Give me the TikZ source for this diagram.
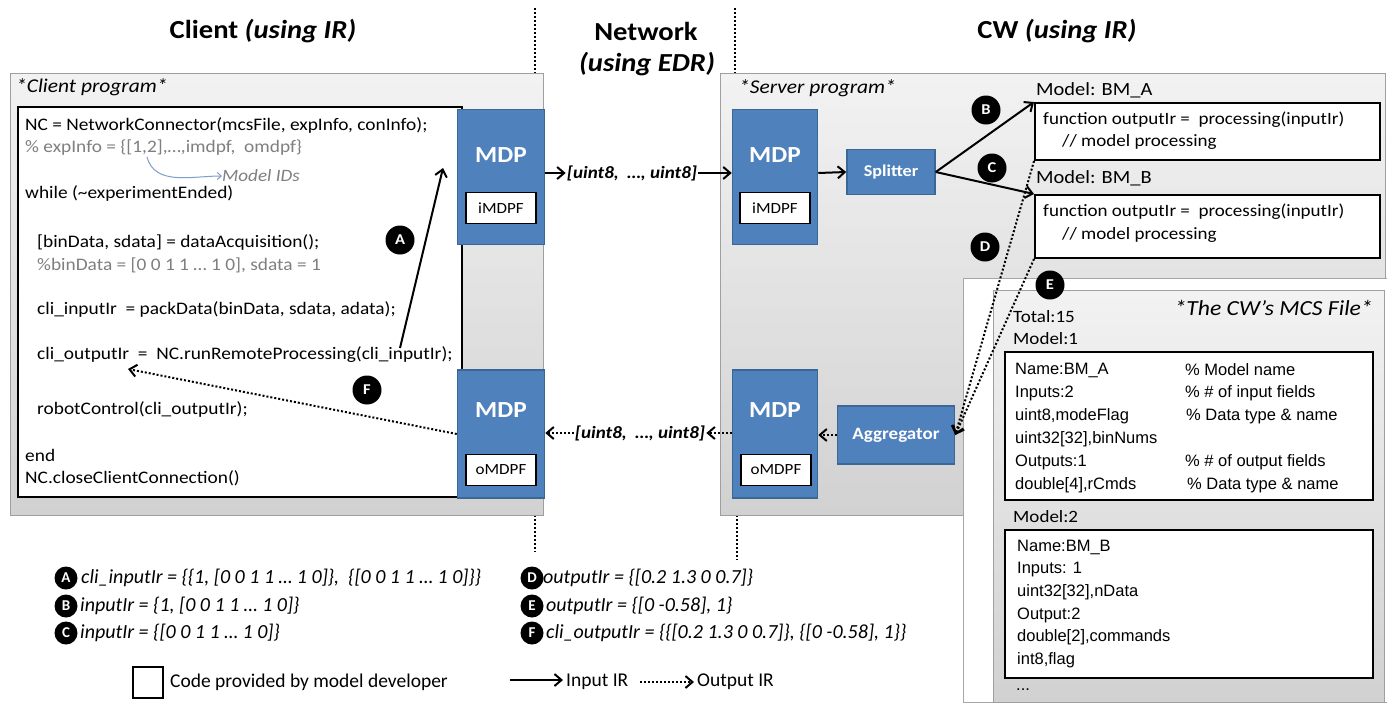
\documentclass[tikz,border=0pt]{standalone}
\usepackage{fontspec}
\setmainfont[FakeStretch=1.1]{Carlito}
\newfontfamily\mcsfont{Liberation Sans}
\newfontfamily\legfont{Carlito}
\usetikzlibrary{arrows.meta}

\definecolor{mdpblue}{HTML}{4F81BD}
\definecolor{mdpedge}{HTML}{3A6795}
\definecolor{cmtgray}{HTML}{7F7F7F}
\definecolor{idblue}{HTML}{7F9FCB}

\newcommand{\fs}[1]{\fontsize{#1}{#1}\selectfont}

\tikzset{
  area/.style={draw=gray!75, line width=1pt, top color=gray!10, bottom color=gray!36},
  mdp/.style={draw=mdpedge, fill=mdpblue, line width=1.5pt},
  mdptxt/.style={text=white, font=\fs{23}\bfseries},
  blk/.style={draw=mdpedge, fill=mdpblue, line width=1.5pt, text=white, font=\fs{16.5}\bfseries},
  fld/.style={draw=black, fill=white, line width=1.8pt, font=\fs{15.5}, minimum width=70pt, minimum height=31pt, inner sep=0pt},
  codebox/.style={draw=black, fill=white, line width=2pt},
  code/.style={anchor=west, inner sep=0pt, font=\fs{17.6}},
  mcs/.style={anchor=west, inner sep=0pt, font=\mcsfont\fs{16.5}},
  head/.style={font=\fs{26}\bfseries},
  prog/.style={anchor=west, inner sep=0pt, font=\fs{19.5}\itshape},
  tag/.style={circle, fill=black, text=white, font=\fs{15}\bfseries, minimum size=29pt, inner sep=0pt},
  ltag/.style={circle, fill=black, text=white, font=\legfont\fs{15}\bfseries, minimum size=23pt, inner sep=0pt},
  leg/.style={anchor=west, inner sep=0pt, font=\legfont\fs{20}\itshape},
  key/.style={anchor=west, inner sep=0pt, font=\legfont\fs{19.5}},
  inarrow/.style={line width=2pt, -{Straight Barb[length=7pt,width=12pt]}},
  outarrow/.style={line width=2pt, dash pattern=on 2pt off 2pt, -{Straight Barb[length=7pt,width=12pt]}},
  sep/.style={line width=2pt, dash pattern=on 2pt off 2pt}
}

\begin{document}
\begin{tikzpicture}[x=1pt,y=-1pt]
  \useasboundingbox (0,0) rectangle (1387,702);

  % Headers
  \node[head] (hcli) at (263,31) {Client \textit{(using IR)}};
  \node[head] (hnet) at (646,31) {Network};
  \node[head] (hedr) at (647,64) {\textit{(using EDR)}};
  \node[head] (hcw) at (1057,31) {CW \textit{(using IR)}};

  % Separators
  \draw[sep] (535,8) -- (535,73);
  \draw[sep] (735,8) -- (735,73);
  \draw[sep] (535,515) -- (535,552);
  \draw[sep] (737,515) -- (737,560);

  % Client side
  \draw[area] (10,73) rectangle (543,515);
  \node[prog] (cprog) at (16,87) {*Client program*};
  \draw[codebox] (18,107) rectangle (462,497);

  \node[code] (l1) at (25,125) {NC = NetworkConnector(mcsFile, expInfo, conInfo);};
  \node[code, text=cmtgray] (l2) at (25,148) {\% expInfo = \{[1,2],…,imdpf,\ \ omdpf\}};
  \node[code, text=cmtgray, font=\fs{17.3}\itshape] (ids) at (222,176) {Model IDs};
  \node[code] (l3) at (25,193) {while (\textasciitilde experimentEnded)};
  \node[code] (l4) at (37,242) {[binData, sdata] = dataAcquisition();};
  \node[code, text=cmtgray] (l5) at (37,265) {\%binData = [0 0 1 1 … 1 0], sdata = 1};
  \node[code] (l6) at (37,309) {cli\_inputIr \ = packData(binData,\ sdata,\ adata);};
  \node[code] (l7) at (37,355) {cli\_outputIr \ = \ NC.runRemoteProcessing(cli\_inputIr);};
  \node[code] (l8) at (37,409) {robotControl(cli\_outputIr);};
  \node[code] (l9) at (25,455) {end};
  \node[code] (l10) at (25,478) {NC.closeClientConnection()};

  \coordinate (idsrc) at (147,157);
  \draw[idblue, line width=1pt, -{Straight Barb[length=4pt,width=7pt]}] (idsrc) to[out=-75,in=180] (ids.west);

  \node[mdp, minimum width=87pt, minimum height=135pt] (cin) at (501,177) {};
  \node[mdptxt] (cinl) at (501,155) {MDP};
  \node[fld] (cinf) at (501,208) {iMDPF};
  \node[mdp, minimum width=87pt, minimum height=128pt] (cout) at (501,434) {};
  \node[mdptxt] (coutl) at (501,410) {MDP};
  \node[fld] (coutf) at (501,470) {oMDPF};

  % Server side
  \draw[area] (720,73) rectangle (1385,515);
  \node[prog] (sprog) at (739,88) {*Server program*};

  \node[mdp, minimum width=85pt, minimum height=135pt] (sin) at (775,177) {};
  \node[mdptxt] (sinl) at (775,155) {MDP};
  \node[fld] (sinf) at (775,208) {iMDPF};
  \node[mdp, minimum width=85pt, minimum height=128pt] (sout) at (775,434) {};
  \node[mdptxt] (soutl) at (775,410) {MDP};
  \node[fld] (soutf) at (776,470) {oMDPF};

  \node[blk, minimum width=88pt, minimum height=45pt] (split) at (891,172) {Splitter};
  \node[blk, minimum width=117pt, minimum height=58pt, font=\fs{17.3}\bfseries] (aggr) at (896,435) {Aggregator};

  \node[anchor=west, inner sep=0pt, font=\fs{18.6}] (mla) at (1036,90) {Model: BM\_A};
  \node[codebox, minimum width=345pt, minimum height=57pt] (bma) at (1207.5,131.5) {};
  \node[code, font=\fs{17.3}] (fa1) at (1043,120) {function outputIr =\ \ processing(inputIr)};
  \node[code, font=\fs{17.3}] (fa2) at (1062,142) {// model processing};

  \node[anchor=west, inner sep=0pt, font=\fs{18.6}] (mlb) at (1036,178) {Model: BM\_B};
  \node[codebox, minimum width=345pt, minimum height=63pt] (bmb) at (1207.5,226.5) {};
  \node[code, font=\fs{17.3}] (fb1) at (1043,212) {function outputIr =\ \ processing(inputIr)};
  \node[code, font=\fs{17.3}] (fb2) at (1062,235) {// model processing};

  % MCS file
  \draw[draw=gray!70, line width=1pt, fill=white] (963,278) rectangle (1387,702);
  \draw[area] (993,290) rectangle (1384,702);
  \node[prog, anchor=east, font=\fs{21.5}\itshape] (mcst) at (1373,308) {*The CW’s MCS File*};
  \node[code, font=\fs{17.3}] (tot) at (1013,317) {Total:15};
  \node[code, font=\fs{17.3}] (mod1) at (1013,339) {Model:1};
  \node[codebox, minimum width=368pt, minimum height=148pt] (mcsa) at (1189,426) {};
  \node[mcs] (a1) at (1015,370) {Name:BM\_A};
  \node[mcs] (a2) at (1015,393) {Inputs:2};
  \node[mcs] (a3) at (1015,416) {uint8,modeFlag};
  \node[mcs] (a4) at (1015,439) {uint32[32],binNums};
  \node[mcs] (a5) at (1015,462) {Outputs:1};
  \node[mcs] (a6) at (1015,485) {double[4],rCmds};
  \node[mcs] (c1) at (1185,370) {\% Model name};
  \node[mcs] (c2) at (1185,393) {\% \# of input fields};
  \node[mcs] (c3) at (1186,416) {\% Data type \& name};
  \node[mcs] (c5) at (1185,462) {\% \# of output fields};
  \node[mcs] (c6) at (1187,485) {\% Data type \& name};
  \node[code, font=\fs{17.3}] (mod2) at (1013,517) {Model:2};
  \node[codebox, minimum width=368pt, minimum height=148pt] (mcsb) at (1189,604) {};
  \node[mcs] (b1) at (1017,547) {Name:BM\_B};
  \node[mcs] (b2) at (1017,570) {Inputs: 1};
  \node[mcs] (b3) at (1017,592) {uint32[32],nData};
  \node[mcs] (b4) at (1017,615) {Output:2};
  \node[mcs] (b5) at (1017,637) {double[2],commands};
  \node[mcs] (b6) at (1017,660) {int8,flag};
  \node[mcs] (more) at (1016,690) {...};

  % Network payloads
  \node[inner sep=1pt, font=\fs{17.3}\bfseries\itshape] (netin) at (632,173) {[uint8,\ \ …, uint8]};
  \node[inner sep=1pt, font=\fs{17.3}\bfseries\itshape] (netout) at (640,433) {[uint8,\ \ …, uint8]};

  % Input IR
  \coordinate (asrc) at (400,348);
  \coordinate (atip) at (443,168);
  \draw[inarrow] (asrc) -- (atip);
  \draw[inarrow] (netin.west -| cin.east) -- (netin.west);
  \draw[inarrow] (netin.east) -- (netin.east -| sin.west);
  \draw[inarrow] (netin.east -| sin.east) -- (split.west);
  \draw[inarrow] (split.east) -- (bma.north west);
  \draw[inarrow] (split.east) -- (bmb.north west);

  % Output IR
  \draw[outarrow] (bma.south west) -- (aggr.east);
  \draw[outarrow] (bmb.south west) -- (aggr.east);
  \draw[outarrow] (aggr.west) -- (aggr.west -| sout.east);
  \draw[outarrow] (netout.east -| sout.west) -- (netout.east);
  \draw[outarrow] (netout.west) -- (netout.west -| cout.east);
  \coordinate (ftip) at (128,369);
  \draw[outarrow] (cout.west) -- (ftip);

  % Tags
  \node[tag] (ta) at (400,240) {A};
  \node[tag] (tb) at (986,110) {B};
  \node[tag] (tc) at (992,168) {C};
  \node[tag] (td) at (985,247) {D};
  \node[tag] (te) at (1050,285) {E};
  \node[tag] (tf) at (367,390) {F};

  % Legend
  \node[ltag] (la) at (66,578) {A};
  \node[leg] (lta) at (81,578) {cli\_inputIr = \{\{1, [0 0 1 1 … 1 0]\},\ \ \{[0 0 1 1 … 1 0]\}\}};
  \node[ltag] (lb) at (66,606) {B};
  \node[leg] (ltb) at (80,606) {inputIr = \{1, [0 0 1 1 … 1 0]\}};
  \node[ltag] (lc) at (66,633) {C};
  \node[leg] (ltc) at (80,633) {inputIr = \{[0 0 1 1 … 1 0]\}};
  \node[ltag] (ld) at (532,578) {D};
  \node[leg] (ltd) at (543,578) {outputIr = \{[0.2 1.3 0 0.7]\}};
  \node[ltag] (le) at (532,606) {E};
  \node[leg] (lte) at (546,606) {outputIr = \{[0 -0.58], 1\}};
  \node[ltag] (lf) at (532,633) {F};
  \node[leg] (ltf) at (546,633) {cli\_outputIr = \{\{[0.2 1.3 0 0.7]\}, \{[0 -0.58], 1\}\}};

  \node[draw, line width=2pt, minimum width=30pt, minimum height=31pt] (lbox) at (148,682) {};
  \node[key] (lboxt) at (170,682) {Code provided by model developer};
  \coordinate (lin0) at (510,680);
  \node[key] (lin) at (566,682) {Input IR};
  \draw[inarrow] (lin0) -- ([xshift=-3pt]lin.west |- lin0);
  \coordinate (lout0) at (640,682);
  \node[key] (lout) at (697,682) {Output IR};
  \draw[outarrow] (lout0) -- ([xshift=-3pt]lout.west);
\end{tikzpicture}
\end{document}
